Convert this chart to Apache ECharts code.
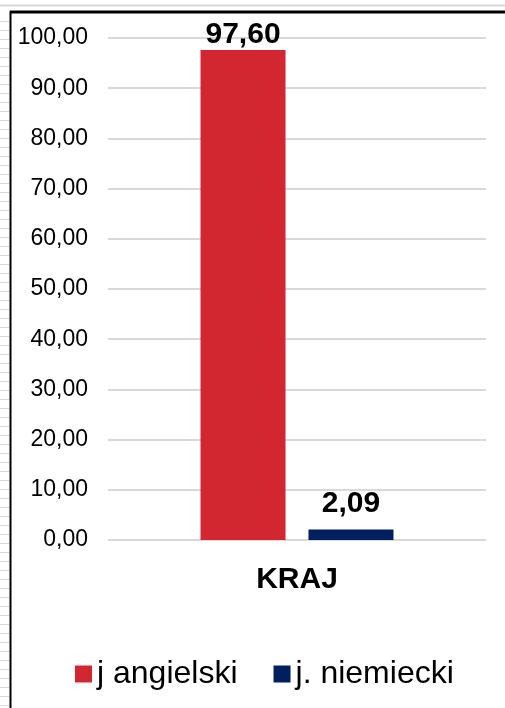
<!DOCTYPE html>
<html><head><meta charset="utf-8">
<script src="https://cdn.jsdelivr.net/npm/echarts@6/dist/echarts.min.js"></script>
<style>html,body{margin:0;padding:0;background:#fff}#c{width:505px;height:708px}</style>
</head><body><div id="c"></div>
<script>
const categories = ['KRAJ'];
const seriesNames = ['j angielski', 'j. niemiecki'];
const angielski = [97.60];
const niemiecki = [2.09];
const colors = ['#D22730', '#001F5F'];

const chart = echarts.init(document.getElementById('c'));
const deco = [];
for (let y = 21; y < 708; y += 9) {
  deco.push({type:'line', shape:{x1:0,y1:y+0.5,x2:9,y2:y+0.5}, style:{stroke:'#d9d9d9',lineWidth:1}, silent:true});
}
deco.push({type:'line', shape:{x1:0,y1:5.5,x2:505,y2:5.5}, style:{stroke:'#d9d9d9',lineWidth:2}, silent:true});
deco.push({type:'line', shape:{x1:10,y1:12,x2:505,y2:12}, style:{stroke:'#000',lineWidth:3}, silent:true});
deco.push({type:'line', shape:{x1:10.5,y1:11,x2:10.5,y2:708}, style:{stroke:'#000',lineWidth:2}, silent:true});

const fmt = v => v.toFixed(2).replace('.', ',');
chart.setOption({
  animation:false,
  textStyle:{fontFamily:'Liberation Sans, Arial, sans-serif'},
  grid:{left:108, right:19, top:38, bottom:168},
  graphic: deco,
  legend:{
    top:653, left:70, itemWidth:17, itemHeight:17, itemGap:36,
    icon:'rect',
    textStyle:{fontSize:32, color:'#000', fontFamily:'Liberation Sans, Arial, sans-serif'},
    data: seriesNames
  },
  xAxis:{
    type:'category', data:categories,
    axisLine:{show:false}, axisTick:{show:false},
    axisLabel:{fontSize:30, fontWeight:'bold', color:'#000', margin:25}
  },
  yAxis:{
    type:'value', min:0, max:100, interval:10,
    axisLine:{show:false}, axisTick:{show:false},
    axisLabel:{fontSize:23, color:'#000', margin:20, formatter: v => fmt(v)},
    splitLine:{lineStyle:{color:'#d9d9d9', width:2}}
  },
  series:[
    {name:seriesNames[0], type:'bar', data:angielski, barWidth:85, barGap:'27%',
     itemStyle:{color:colors[0]},
     label:{show:true, position:'top', fontSize:30, fontWeight:'bold', color:'#000', distance:0, formatter:p=>fmt(p.value)}},
    {name:seriesNames[1], type:'bar', data:niemiecki, barWidth:85,
     itemStyle:{color:colors[1]},
     label:{show:true, position:'top', fontSize:30, fontWeight:'bold', color:'#000', distance:11, formatter:p=>fmt(p.value)}}
  ]
});
</script></body></html>
